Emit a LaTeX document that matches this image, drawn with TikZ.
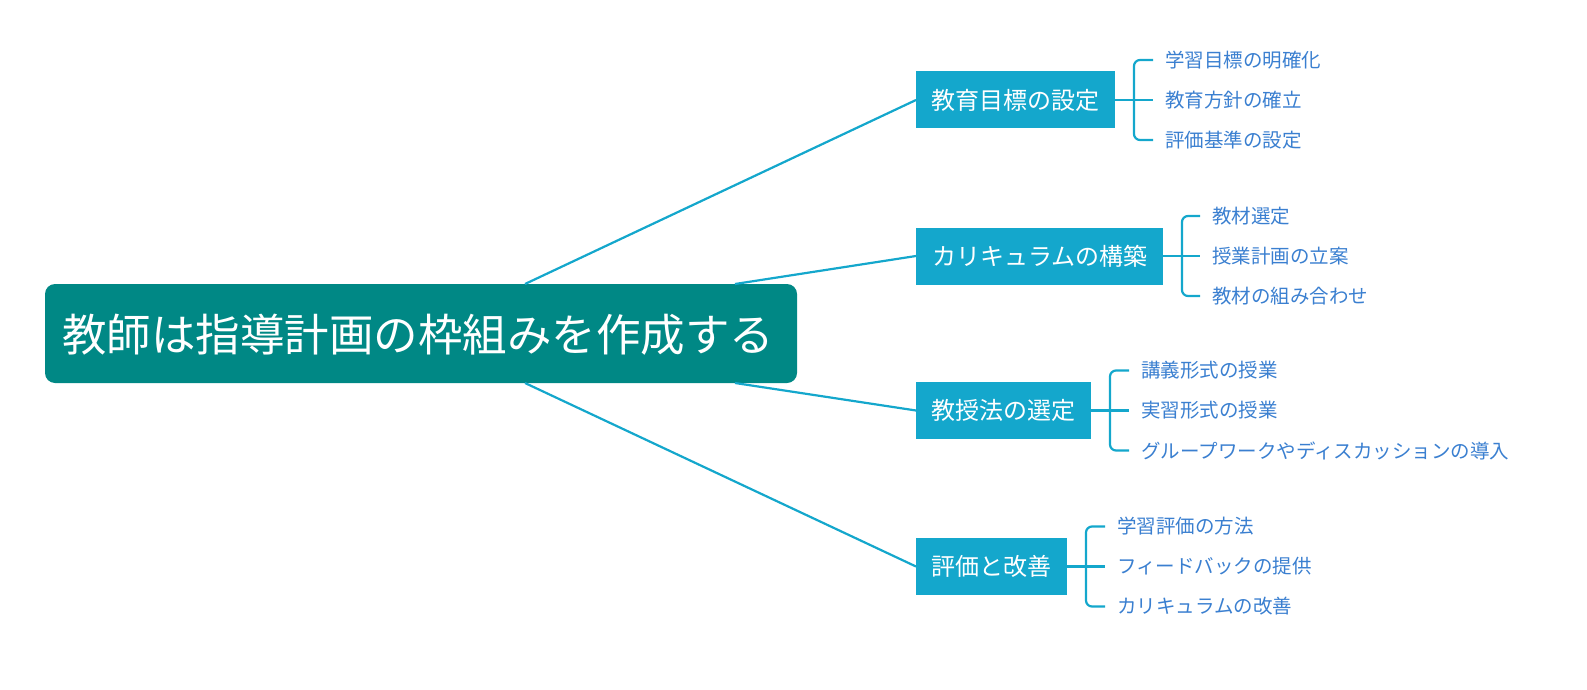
\documentclass[tikz,border=0pt]{standalone}
\usepackage{fontspec}
\setmainfont{Noto Sans CJK JP}
\usetikzlibrary{positioning}
\definecolor{rootteal}{HTML}{008885}
\definecolor{branchblue}{HTML}{14A7CC}
\definecolor{leafblue}{HTML}{3A7FD0}
\tikzset{
  rootbox/.style={text=white,font=\fontsize{44.5}{46}\selectfont,anchor=west,inner sep=0pt},
  topicbox/.style={fill=branchblue,text=white,font=\fontsize{24}{26}\selectfont,anchor=west,minimum height=57pt,inner xsep=15pt},
  leaf/.style={text=leafblue,font=\fontsize{19.5}{21}\selectfont,anchor=west,inner sep=0pt},
  link/.style={draw=branchblue,line width=2.2pt},
  brace/.style={draw=branchblue,line width=2.2pt,rounded corners=6pt}
}
\begin{document}
\begin{tikzpicture}[x=1pt,y=-1pt]
\useasboundingbox (0,0) rectangle (1587,690);
\fill[rootteal,rounded corners=10pt] (45,284) rectangle (797,383);
\node[rootbox] (root) at (62,335) {教師は指導計画の枠組みを作成する};
\coordinate (r1) at (525,284);
\coordinate (r2) at (735,284);
\coordinate (r3) at (735,383);
\coordinate (r4) at (525,383);

\node[topicbox,minimum width=199pt] (goal) at (916,100) {教育目標の設定};
\node[topicbox,minimum width=247pt] (curr) at (916,256) {カリキュラムの構築};
\node[topicbox,minimum width=175pt] (meth) at (916,410.5) {教授法の選定};
\node[topicbox,minimum width=151pt] (eval) at (916,566.5) {評価と改善};

\draw[link] (r1) -- (goal.west);
\draw[link] (r2) -- (curr.west);
\draw[link] (r3) -- (meth.west);
\draw[link] (r4) -- (eval.west);

% leaves
\foreach \topic/\bx/\lx/\ya/\yb/\yc/\ta/\tb/\tc in {
  goal/1134/1165/60/100/140/学習目標の明確化/教育方針の確立/評価基準の設定,
  curr/1182/1212/216/256/296/教材選定/授業計画の立案/教材の組み合わせ,
  meth/1110/1141/370.5/410.5/450.5/講義形式の授業/実習形式の授業/グループワークやディスカッションの導入,
  eval/1086/1117/526.5/566.5/606.5/学習評価の方法/フィードバックの提供/カリキュラムの改善}{
  \node[leaf] (\topic-a) at (\lx,\ya) {\ta};
  \node[leaf] (\topic-b) at (\lx,\yb) {\tb};
  \node[leaf] (\topic-c) at (\lx,\yc) {\tc};
  \draw[link] (\topic.east) -- (\bx,\yb) -- (\lx-12,\yb);
  \draw[brace] (\lx-12,\ya) -- (\bx,\ya) -- (\bx,\yc) -- (\lx-12,\yc);
}
\end{tikzpicture}
\end{document}
